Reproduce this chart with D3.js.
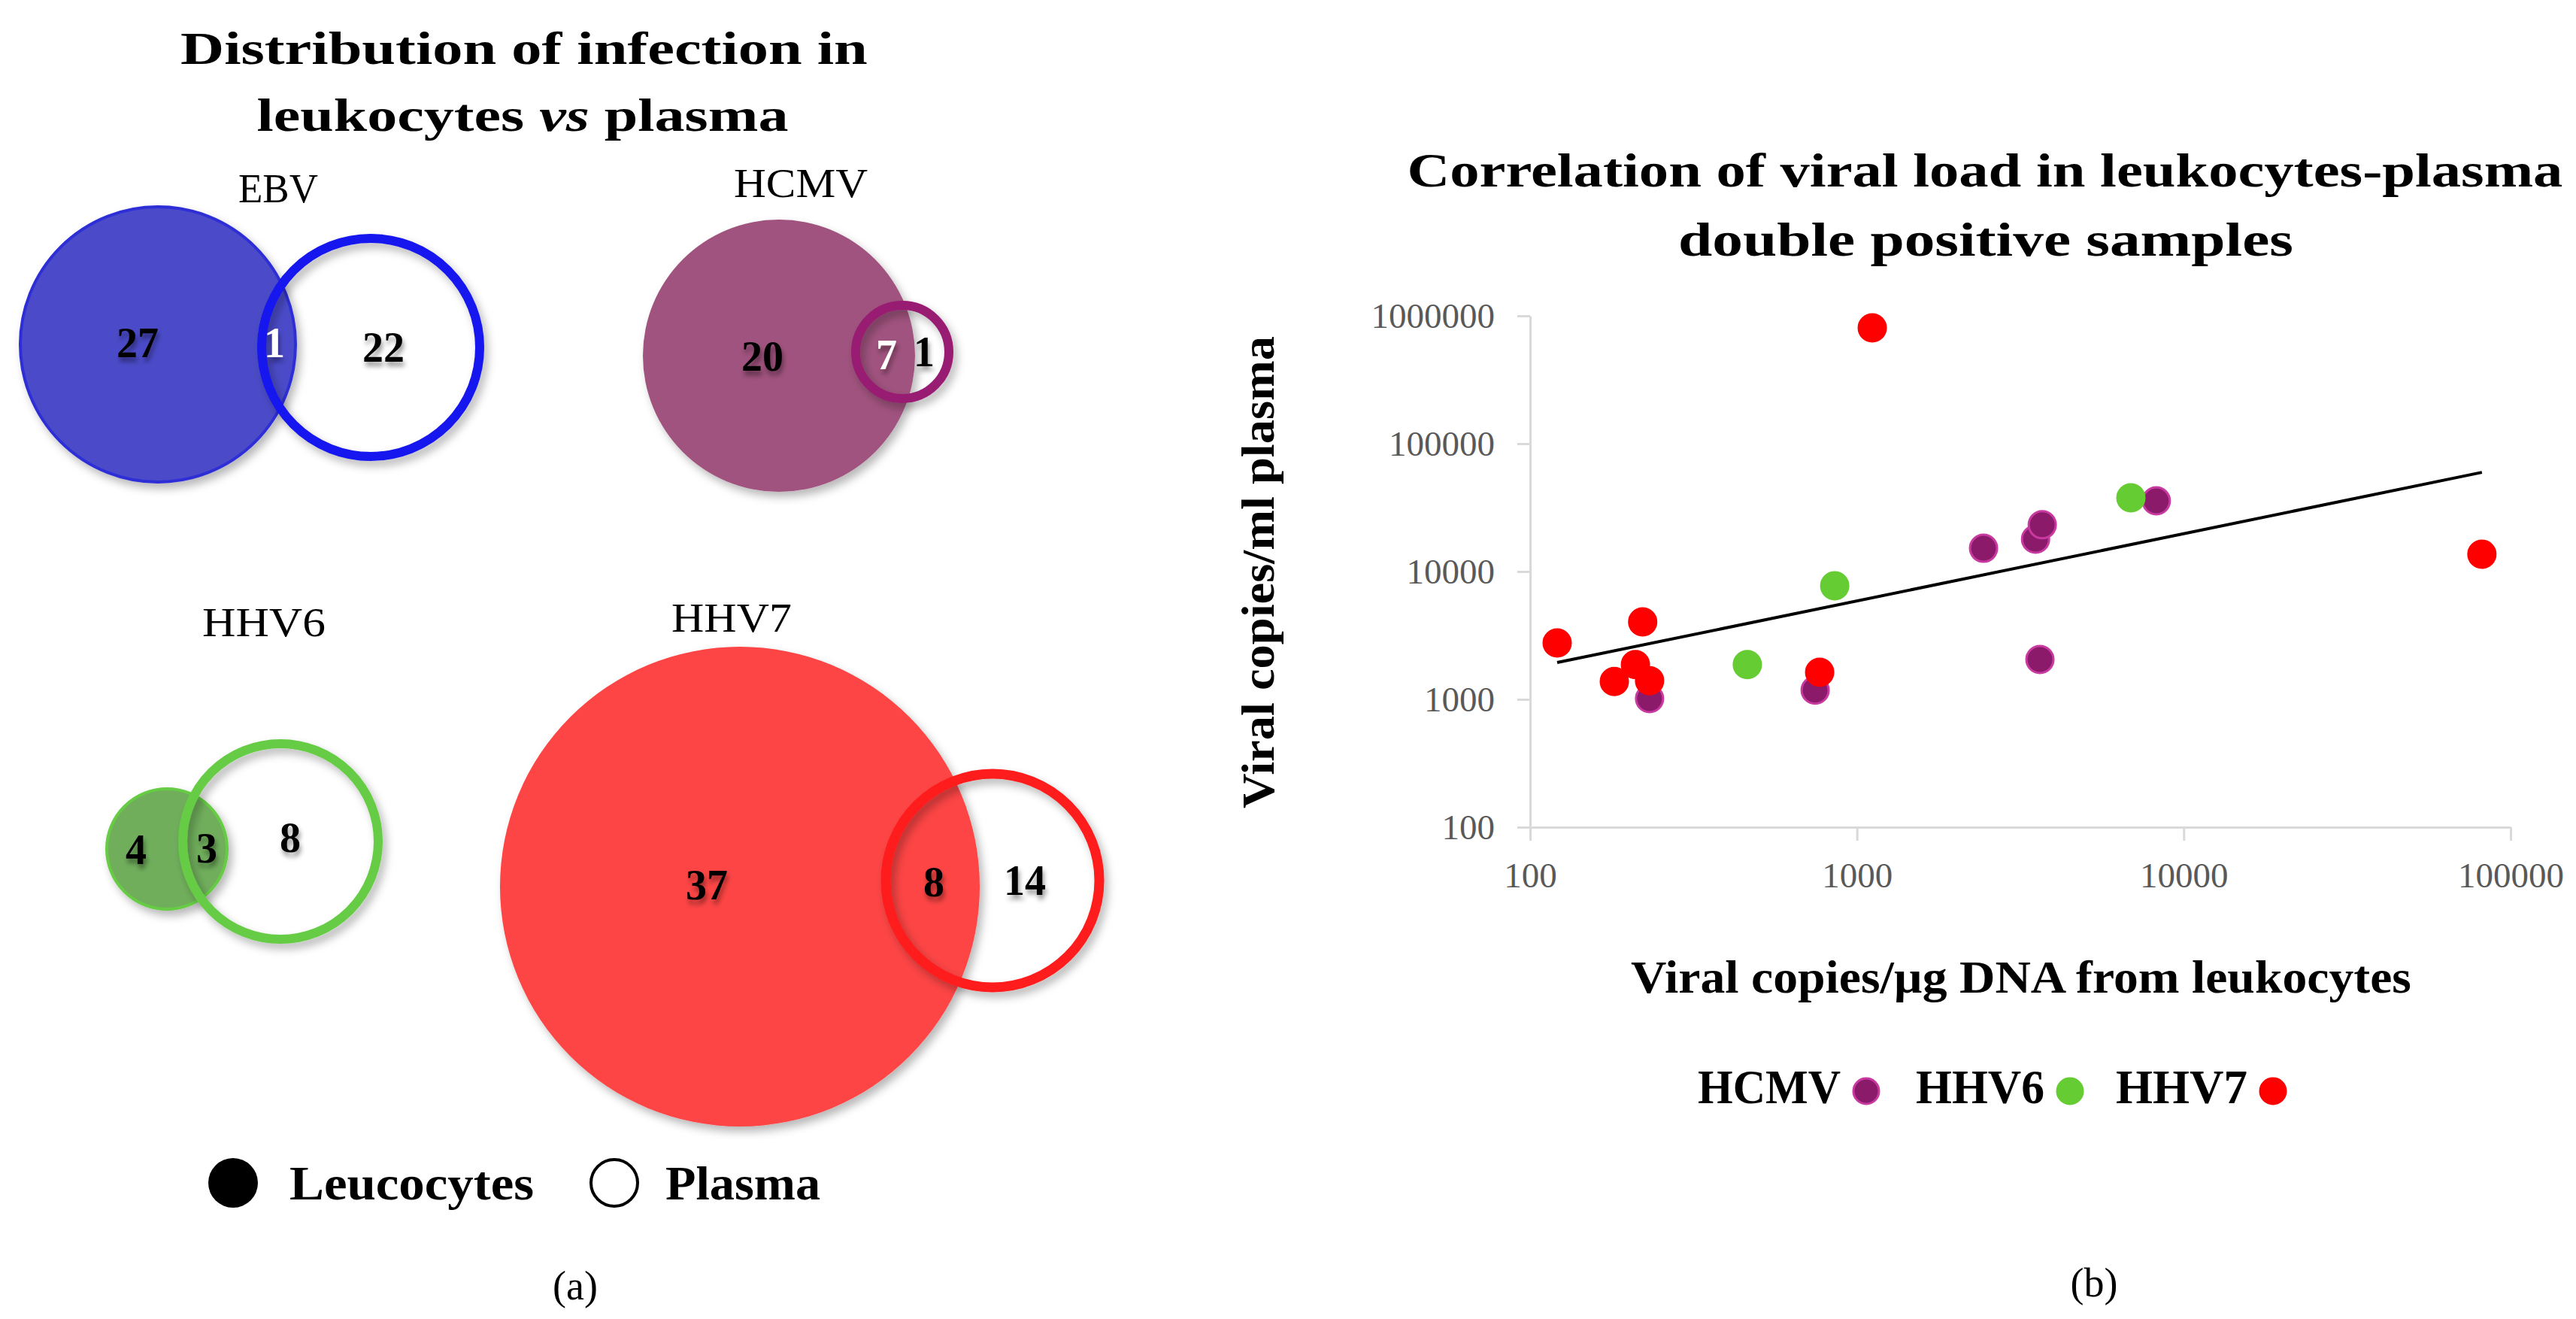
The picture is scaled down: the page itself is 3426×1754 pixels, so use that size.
<!DOCTYPE html>
<html>
<head>
<meta charset="utf-8">
<script src="https://d3js.org/d3.v7.min.js"></script>
<style>
body { margin: 0; background: #fff; }
text { font-family: "Liberation Serif", "Times New Roman", serif; }
</style>
</head>
<body>
<svg id="fig" width="3426" height="1754"></svg>
<script>
// ---- panel (a): Venn counts ----
const viruses = ["EBV", "HCMV", "HHV6", "HHV7"];
const leukOnly = [27, 20, 4, 37];
const bothPos = [1, 7, 3, 8];
const plasmaOnly = [22, 1, 8, 14];

// ---- panel (b): viral load pairs (leukocytes x, plasma y) ----
const seriesNames = ["HCMV", "HHV6", "HHV7"];
const hcmvX = [232, 745, 2440, 3520, 3690, 3630, 8240];
const hcmvY = [1014, 1180, 15200, 17900, 23200, 2050, 35700];
const hhv6X = [462, 855, 6890];
const hhv6Y = [1870, 7730, 37700];
const hhv7X = [121, 221, 210, 181, 232, 769, 1114, 81700];
const hhv7Y = [2760, 4040, 1870, 1380, 1400, 1630, 805000, 13650];
const trendX = [121, 81700];
const trendY = [1940, 59700];
const xTicks = [100, 1000, 10000, 100000];
const yTicks = [100, 1000, 10000, 100000, 1000000];

// ---- styling / layout ----
const vennFill = ["#4b4bc9", "#a0527e", "#70ae5b", "#fd4444"];
const vennRing = ["#1414ee", "#991a73", "#66cc44", "#ff1a1a"];
const vennEdge = ["#2f2fd6", "none", "#66cc44", "none"];
const vennLayout = [
  {cx: 210, cy: 458, r: 183, px: 493, py: 462, pr: 145, pw: 12, lx: 370, ly: 269, lw: 106,
   nums: [[183, 456], [365, 456], [510, 462]], white: [false, true, false]},
  {cx: 1036, cy: 473, r: 181, px: 1200, py: 468, pr: 62, pw: 12, lx: 1065, ly: 262, lw: 178,
   nums: [[1014, 474], [1179, 472], [1229, 468]], white: [false, true, false]},
  {cx: 222, cy: 1129, r: 80, px: 373, py: 1119, pr: 130, pw: 12, lx: 351, ly: 846, lw: 164,
   nums: [[181, 1130], [275, 1128], [386, 1114]], white: [false, false, false]},
  {cx: 984, cy: 1179, r: 319, px: 1320, py: 1171, pr: 142, pw: 13, lx: 973, ly: 840, lw: 160,
   nums: [[940, 1177], [1242, 1173], [1363, 1171]], white: [false, false, false]}
];
const dotColors = ["#8b1a6b", "#66cc33", "#ff0000"];
const dotEdges = ["#c93aa0", "#66cc33", "#ff0000"];

const svg = d3.select("#fig");
const defs = svg.append("defs");
const sh = defs.append("filter").attr("id", "shadow")
  .attr("x", "-20%").attr("y", "-20%").attr("width", "150%").attr("height", "150%");
sh.append("feDropShadow").attr("dx", 5).attr("dy", 7).attr("stdDeviation", 6)
  .attr("flood-color", "#000").attr("flood-opacity", 0.28);
const tsh = defs.append("filter").attr("id", "tshadow")
  .attr("x", "-30%").attr("y", "-30%").attr("width", "170%").attr("height", "170%");
tsh.append("feDropShadow").attr("dx", 2).attr("dy", 6).attr("stdDeviation", 3)
  .attr("flood-color", "#000").attr("flood-opacity", 0.4);

// squeeze/stretch a text horizontally around its centre to a target width
function fitWidth(t, w) {
  const b = t.node().getBBox();
  const c = b.x + b.width / 2, s = w / b.width;
  t.attr("transform", `translate(${c},0) scale(${s},1) translate(${-c},0)`);
}

// ---- panel (a) ----
const t1 = svg.append("text").attr("x", 697).attr("y", 85).attr("text-anchor", "middle")
  .attr("font-size", 62).attr("font-weight", "bold").text("Distribution of infection in");
fitWidth(t1, 914);
const t2 = svg.append("text").attr("x", 695).attr("y", 174).attr("text-anchor", "middle")
  .attr("font-size", 62).attr("font-weight", "bold");
t2.append("tspan").text("leukocytes ");
t2.append("tspan").attr("font-style", "italic").text("vs");
t2.append("tspan").text(" plasma");
fitWidth(t2, 707);

vennLayout.forEach((L, i) => {
  const g = svg.append("g");
  g.append("circle").attr("cx", L.cx).attr("cy", L.cy).attr("r", L.r)
    .attr("fill", vennFill[i]).attr("stroke", vennEdge[i]).attr("stroke-width", 4)
    .attr("filter", "url(#shadow)");
  g.append("circle").attr("cx", L.px).attr("cy", L.py).attr("r", L.pr)
    .attr("fill", "none").attr("stroke", vennRing[i]).attr("stroke-width", L.pw)
    .attr("filter", "url(#shadow)");
  const lab = g.append("text").attr("x", L.lx).attr("y", L.ly).attr("text-anchor", "middle")
    .attr("font-size", 54).text(viruses[i]);
  fitWidth(lab, L.lw);
  const counts = [leukOnly[i], bothPos[i], plasmaOnly[i]];
  counts.forEach((c, k) => {
    g.append("text").attr("x", L.nums[k][0]).attr("y", L.nums[k][1])
      .attr("dy", "0.34em").attr("text-anchor", "middle")
      .attr("font-size", 56).attr("font-weight", "bold")
      .attr("fill", L.white[k] ? "#fff" : "#000")
      .attr("filter", "url(#tshadow)").text(c);
  });
});

// legend (a)
svg.append("circle").attr("cx", 310).attr("cy", 1573).attr("r", 33).attr("fill", "#000");
svg.append("text").attr("x", 385).attr("y", 1595).attr("font-size", 64)
  .attr("font-weight", "bold").attr("textLength", 325)
  .attr("lengthAdjust", "spacingAndGlyphs").text("Leucocytes");
svg.append("circle").attr("cx", 817).attr("cy", 1573).attr("r", 31)
  .attr("fill", "#fff").attr("stroke", "#000").attr("stroke-width", 4);
svg.append("text").attr("x", 885).attr("y", 1595).attr("font-size", 64)
  .attr("font-weight", "bold").attr("textLength", 206)
  .attr("lengthAdjust", "spacingAndGlyphs").text("Plasma");

svg.append("text").attr("x", 765).attr("y", 1728).attr("text-anchor", "middle")
  .attr("font-size", 54).text("(a)");

// ---- panel (b) ----
const x = d3.scaleLog().domain([100, 100000]).range([2035, 3339]);
const y = d3.scaleLog().domain([100, 1000000]).range([1100, 420]);

const b1 = svg.append("text").attr("x", 2640).attr("y", 248).attr("text-anchor", "middle")
  .attr("font-size", 64).attr("font-weight", "bold")
  .text("Correlation of viral load in leukocytes-plasma");
fitWidth(b1, 1537);
const b2 = svg.append("text").attr("x", 2641).attr("y", 340).attr("text-anchor", "middle")
  .attr("font-size", 64).attr("font-weight", "bold").text("double positive samples");
fitWidth(b2, 818);

const gy = svg.append("g").attr("transform", "translate(2035,0)")
  .call(d3.axisLeft(y).tickValues(yTicks).tickFormat(d3.format("d"))
    .tickSize(17).tickSizeOuter(0).tickPadding(30));
const gx = svg.append("g").attr("transform", "translate(0,1100)")
  .call(d3.axisBottom(x).tickValues(xTicks).tickFormat(d3.format("d"))
    .tickSize(18).tickSizeOuter(0).tickPadding(29));
[gy, gx].forEach(g => {
  g.select(".domain").attr("stroke", "#d9d9d9").attr("stroke-width", 3);
  g.selectAll(".tick line").attr("stroke", "#d9d9d9").attr("stroke-width", 3);
  g.selectAll(".tick text").attr("fill", "#595959").attr("font-size", 47)
    .attr("font-family", "'Liberation Serif', 'Times New Roman', serif");
});

svg.append("text")
  .attr("transform", "translate(1694,761) rotate(-90)")
  .attr("text-anchor", "middle").attr("font-size", 62).attr("font-weight", "bold")
  .attr("textLength", 628).attr("lengthAdjust", "spacingAndGlyphs")
  .text("Viral copies/ml plasma");
const xt = svg.append("text").attr("x", 2688).attr("y", 1320).attr("text-anchor", "middle")
  .attr("font-size", 62).attr("font-weight", "bold").text("Viral copies/µg DNA from leukocytes");
fitWidth(xt, 1038);

// trend line (power fit, straight on log-log)
svg.append("path")
  .datum(d3.zip(trendX, trendY))
  .attr("d", d3.line().x(d => x(d[0])).y(d => y(d[1])))
  .attr("fill", "none").attr("stroke", "#000").attr("stroke-width", 4);

const seriesX = [hcmvX, hhv6X, hhv7X];
const seriesY = [hcmvY, hhv6Y, hhv7Y];
seriesNames.forEach((name, i) => {
  svg.append("g").selectAll("circle")
    .data(d3.zip(seriesX[i], seriesY[i]))
    .join("circle")
    .attr("cx", d => x(d[0])).attr("cy", d => y(d[1])).attr("r", 18)
    .attr("fill", dotColors[i]).attr("stroke", dotEdges[i]).attr("stroke-width", 3);
});

// legend (b)
const legX = [2258, 2548, 2814];
const legW = [190, 171, 175];
seriesNames.forEach((name, i) => {
  svg.append("text").attr("x", legX[i]).attr("y", 1467).attr("font-size", 64)
    .attr("font-weight", "bold").attr("textLength", legW[i])
    .attr("lengthAdjust", "spacingAndGlyphs").text(name);
  svg.append("circle").attr("cx", legX[i] + legW[i] + 34).attr("cy", 1451).attr("r", 17)
    .attr("fill", dotColors[i]).attr("stroke", dotEdges[i]).attr("stroke-width", 3);
});

svg.append("text").attr("x", 2785).attr("y", 1724).attr("text-anchor", "middle")
  .attr("font-size", 54).text("(b)");
</script>
</body>
</html>
